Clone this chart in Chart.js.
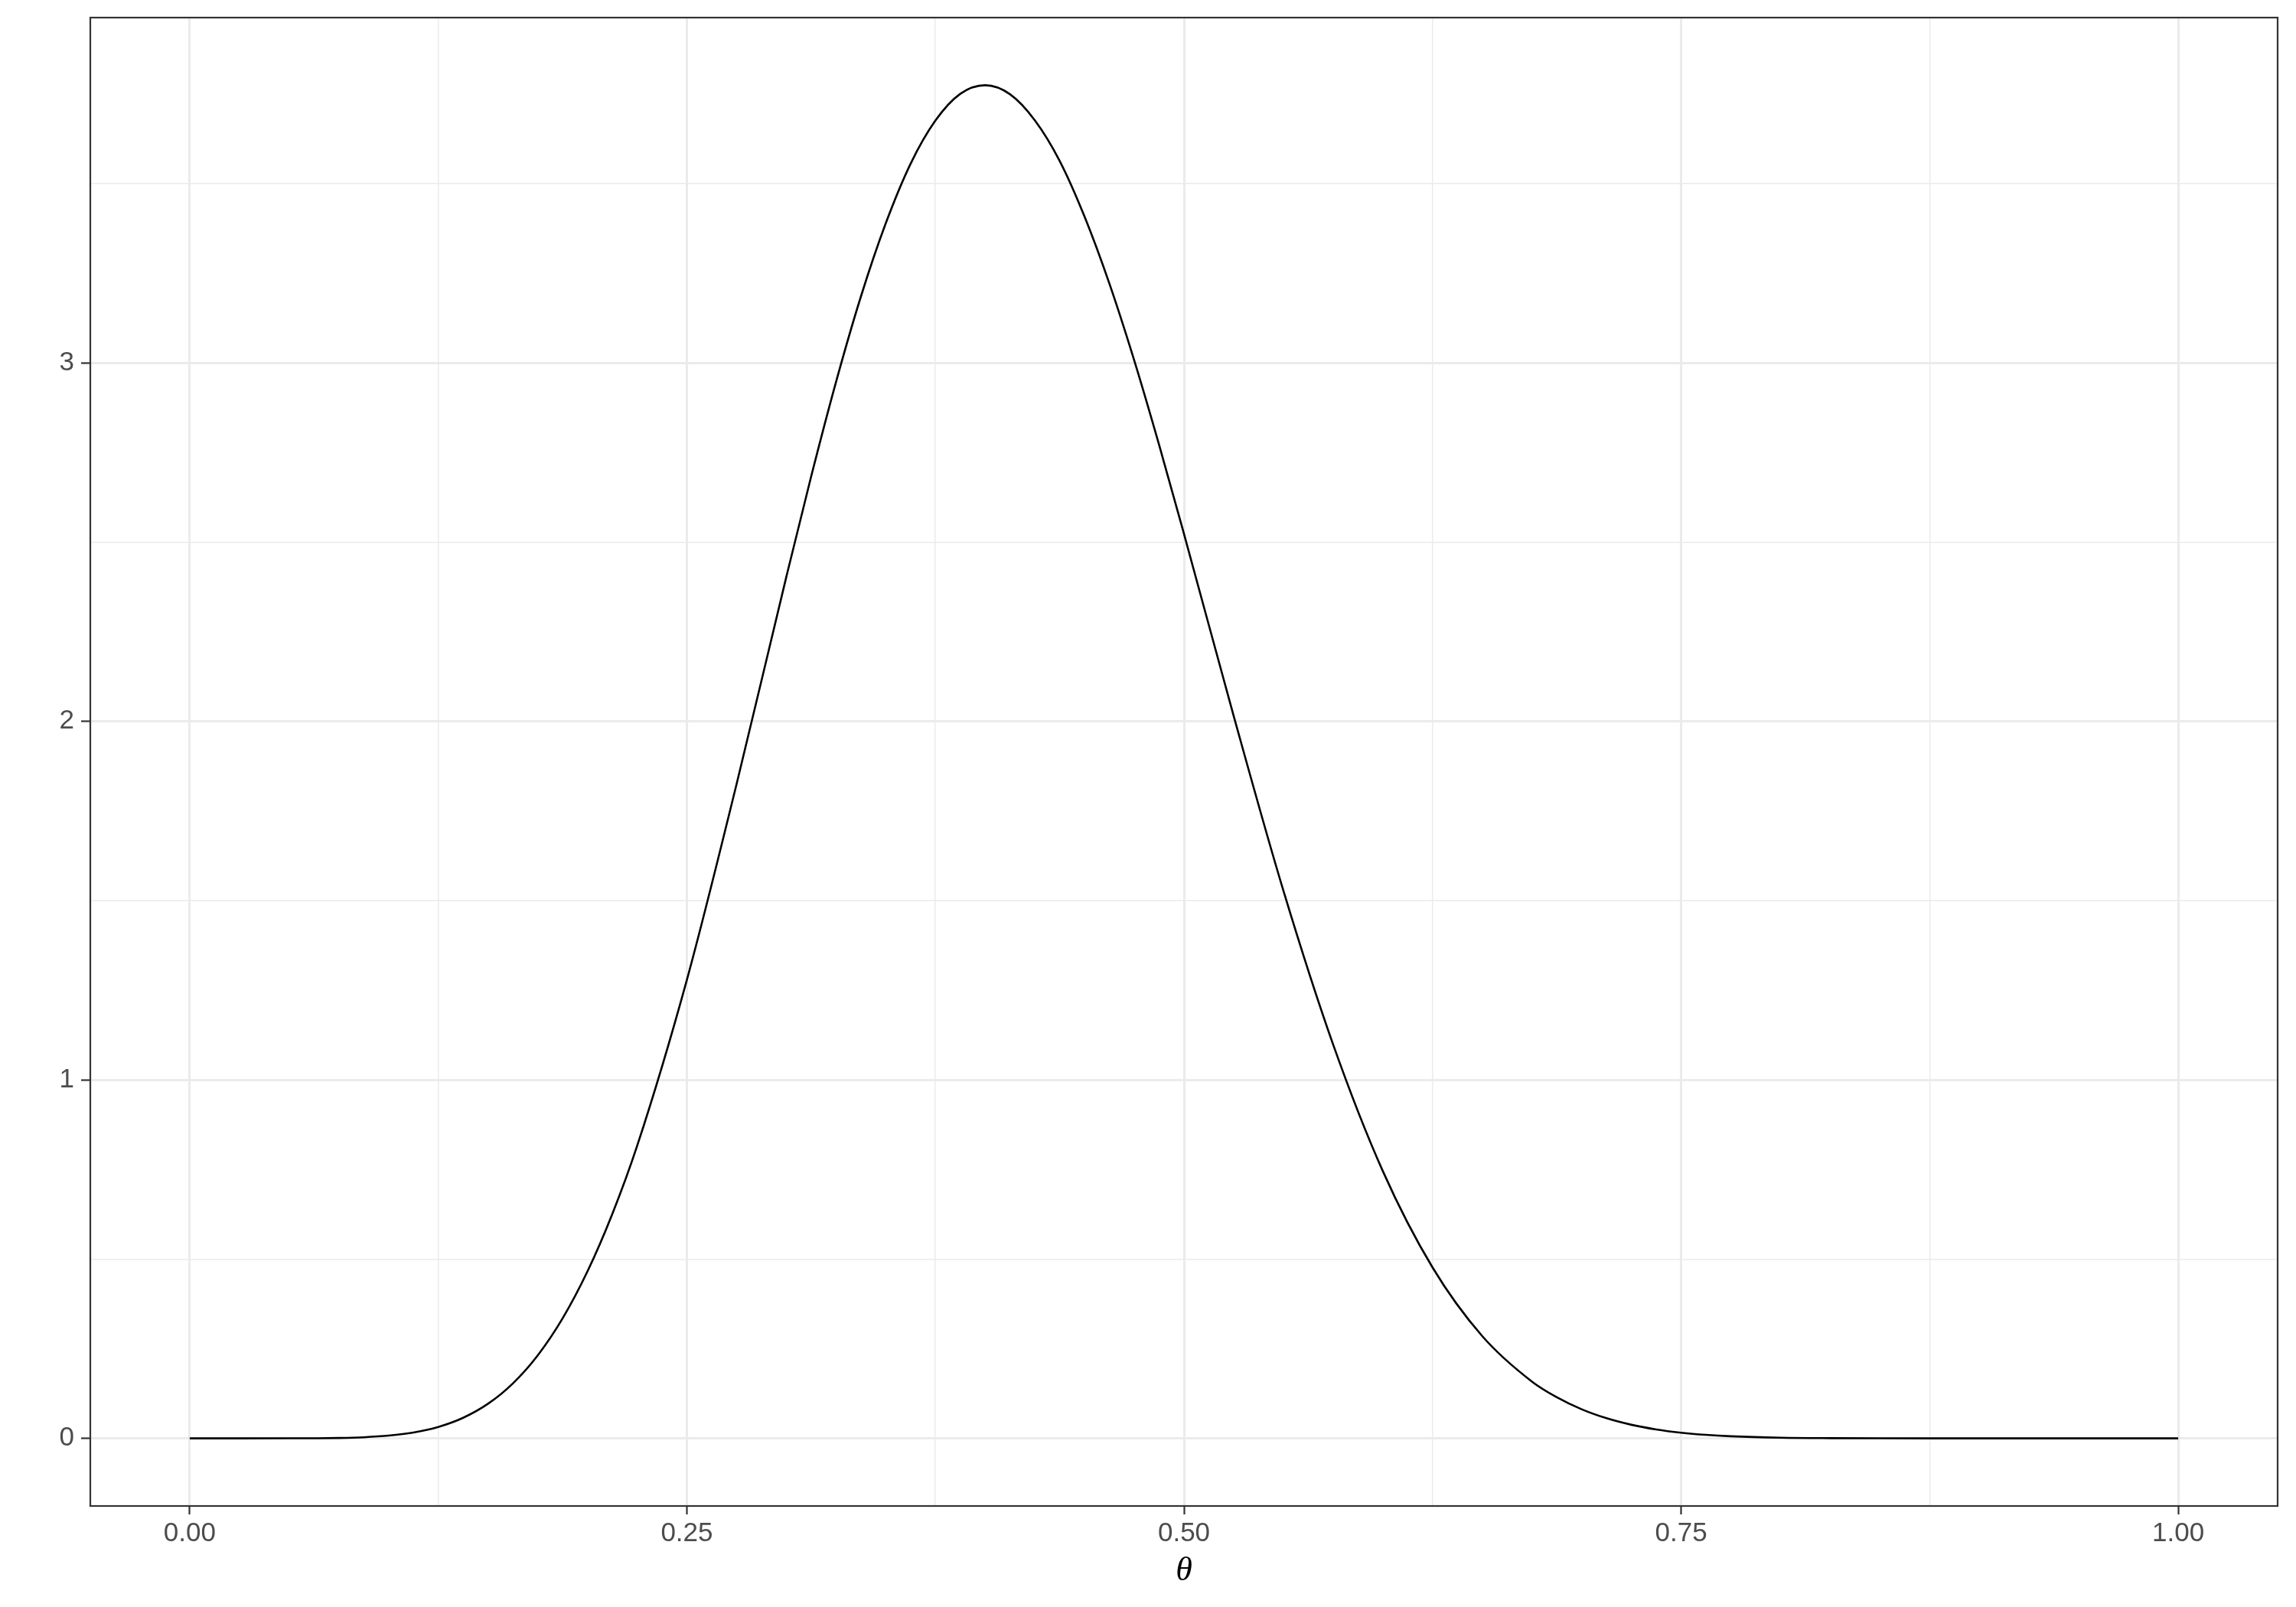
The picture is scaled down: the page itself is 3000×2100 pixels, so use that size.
<!DOCTYPE html>
<html>
<head>
<meta charset="utf-8">
<script src="https://cdn.jsdelivr.net/npm/chart.js@4/dist/chart.umd.min.js"></script>
<style>
  body { margin: 0; background: #fff; }
  canvas { display: block; }
</style>
</head>
<body>
<canvas id="densityChart" width="3000" height="2100"></canvas>
<script>
// values (density curve over theta)
const thetaValues = [0, 0.025, 0.05, 0.0625, 0.075, 0.0875, 0.1, 0.1125, 0.125, 0.1375,
  0.15, 0.1625, 0.175, 0.1875, 0.2, 0.2125, 0.225, 0.25, 0.275, 0.3,
  0.3125, 0.325, 0.3375, 0.35, 0.3625, 0.375, 0.3875, 0.4, 0.4125, 0.425,
  0.4375, 0.45, 0.4625, 0.475, 0.4875, 0.5, 0.525, 0.55,
  0.575, 0.6, 0.625, 0.65, 0.675, 0.6875, 0.7, 0.7125, 0.725, 0.7375,
  0.75, 0.7625, 0.775, 0.8, 0.825, 0.85, 0.875, 0.9, 0.925, 0.95, 0.975, 1];
const densityValues = [0, 0, 0.00006, 0.00028, 0.001, 0.0030, 0.0075, 0.0162, 0.0318, 0.0573,
  0.0964, 0.1532, 0.2314, 0.3345, 0.4654, 0.6257, 0.8158, 1.2786, 1.8246, 2.4023,
  2.6827, 2.9461, 3.1842, 3.3884, 3.5548, 3.6754, 3.75, 3.774, 3.749, 3.6762,
  3.5629, 3.4076, 3.2206, 3.0062, 2.7709, 2.5228, 2.0147, 1.5277,
  1.0987, 0.7454, 0.4767, 0.2851, 0.1583, 0.1145, 0.081, 0.0560, 0.0378, 0.0248,
  0.0158, 0.0097, 0.0058, 0.0018, 0.0005, 0.0001, 0, 0, 0, 0, 0, 0];

const xMajorTicks = [0, 0.25, 0.5, 0.75, 1];
const xMinorTicks = [0.125, 0.375, 0.625, 0.875];
const yMajorTicks = [0, 1, 2, 3];
const yMinorTicks = [0.5, 1.5, 2.5, 3.5];

const points = thetaValues.map((t, i) => ({ x: t, y: densityValues[i] }));

// ggplot-style padding around the data range
const yPad = (Math.max(...densityValues) - Math.min(...densityValues)) * 0.05;
const xPad = 0.05;

const isMajor = (list, v) => list.some(m => Math.abs(m - v) < 1e-9);

const panelBorder = {
  id: 'panelBorder',
  afterDatasetsDraw(chart) {
    const { ctx, chartArea: a } = chart;
    ctx.save();
    ctx.strokeStyle = '#333333';
    ctx.lineWidth = 2.2;
    ctx.strokeRect(a.left, a.top, a.right - a.left, a.bottom - a.top);
    ctx.restore();
  }
};

const ctx = document.getElementById('densityChart').getContext('2d');
new Chart(ctx, {
  type: 'line',
  data: {
    datasets: [{
      data: points,
      borderColor: '#000000',
      borderWidth: 2.6,
      pointRadius: 0,
      fill: false,
      cubicInterpolationMode: 'monotone'
    }]
  },
  options: {
    responsive: false,
    animation: false,
    devicePixelRatio: 1,
    layout: { padding: { top: 23, right: 24, left: 0, bottom: 0 } },
    plugins: {
      legend: { display: false },
      tooltip: { enabled: false }
    },
    scales: {
      x: {
        type: 'linear',
        min: -xPad,
        max: 1 + xPad,
        afterBuildTicks: axis => {
          axis.ticks = [...xMajorTicks, ...xMinorTicks].sort((a, b) => a - b).map(v => ({ value: v }));
        },
        afterFit: axis => {
          axis.height = 132;
          axis.paddingLeft = 0;
          axis.paddingRight = 0;
        },
        border: { display: false },
        grid: {
          color: '#EBEBEB',
          lineWidth: c => (c.tick && isMajor(xMajorTicks, c.tick.value)) ? 3 : 1.5,
          tickColor: c => (c.tick && isMajor(xMajorTicks, c.tick.value)) ? '#333333' : 'rgba(0,0,0,0)',
          tickWidth: 2.2,
          tickLength: 11
        },
        ticks: {
          autoSkip: false,
          maxRotation: 0,
          padding: 4,
          color: '#4D4D4D',
          font: { family: 'Liberation Sans, Arial, sans-serif', size: 35 },
          callback: v => isMajor(xMajorTicks, v) ? v.toFixed(2) : ''
        },
        title: {
          display: true,
          text: 'θ',
          color: '#000000',
          font: { family: 'Liberation Serif, Times New Roman, serif', size: 44, style: 'italic' },
          padding: { top: 0, bottom: 20 }
        }
      },
      y: {
        type: 'linear',
        min: -yPad,
        max: Math.max(...densityValues) + yPad,
        afterBuildTicks: axis => {
          axis.ticks = [...yMajorTicks, ...yMinorTicks].sort((a, b) => a - b).map(v => ({ value: v }));
        },
        afterFit: axis => {
          axis.width = 118;
          axis.paddingTop = 0;
          axis.paddingBottom = 0;
        },
        border: { display: false },
        grid: {
          color: '#EBEBEB',
          lineWidth: c => (c.tick && isMajor(yMajorTicks, c.tick.value)) ? 3 : 1.5,
          tickColor: c => (c.tick && isMajor(yMajorTicks, c.tick.value)) ? '#333333' : 'rgba(0,0,0,0)',
          tickWidth: 2.2,
          tickLength: 12
        },
        ticks: {
          autoSkip: false,
          padding: 9,
          color: '#4D4D4D',
          font: { family: 'Liberation Sans, Arial, sans-serif', size: 35 },
          callback: v => isMajor(yMajorTicks, v) ? String(v) : ''
        }
      }
    }
  },
  plugins: [panelBorder]
});
</script>
</body>
</html>
